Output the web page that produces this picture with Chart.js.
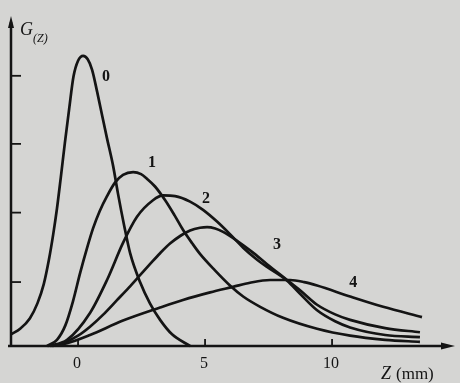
<!DOCTYPE html>
<html>
<head>
<meta charset="utf-8">
<script src="https://cdn.jsdelivr.net/npm/chart.js@4"></script>
<style>
  html, body { margin: 0; padding: 0; background: #d5d5d3; }
  canvas { display: block; }
</style>
</head>
<body>
<canvas id="chart" width="460" height="383"></canvas>
<script>
// Curve data: Z in mm, G(Z) in arbitrary units
const curve0Z = [-2.64, -2.28, -1.90, -1.60, -1.35, -1.15, -0.98, -0.83, -0.68, -0.52, -0.35, -0.18, 0.00, 0.20, 0.38, 0.55, 0.75, 0.95, 1.14, 1.38, 1.57, 1.81, 2.05, 2.44, 2.83, 3.23, 3.70, 4.41];
const curve0G = [0.17, 0.25, 0.40, 0.62, 0.90, 1.25, 1.62, 2.00, 2.45, 2.95, 3.45, 3.92, 4.15, 4.22, 4.17, 4.02, 3.70, 3.35, 3.02, 2.62, 2.22, 1.76, 1.35, 0.93, 0.62, 0.38, 0.17, 0];

const curve1Z = [-1.22, -0.83, -0.50, -0.20, 0.08, 0.35, 0.59, 0.85, 1.14, 1.46, 1.77, 2.17, 2.48, 2.72, 3.03, 3.43, 3.80, 4.13, 4.50, 4.80, 5.39, 5.98, 6.50, 7.17, 8.07, 9.41, 10.71, 12.09, 13.46];
const curve1G = [0, 0.09, 0.30, 0.65, 1.06, 1.42, 1.71, 1.96, 2.18, 2.38, 2.49, 2.53, 2.50, 2.43, 2.32, 2.12, 1.90, 1.69, 1.49, 1.34, 1.10, 0.88, 0.72, 0.57, 0.41, 0.25, 0.15, 0.09, 0.06];

const curve2Z = [-1.18, -0.43, 0.47, 1.14, 1.77, 2.32, 2.95, 3.35, 3.82, 4.41, 4.92, 5.47, 6.00, 6.50, 7.00, 7.44, 8.23, 8.74, 9.41, 10.12, 10.71, 12.09, 13.46];
const curve2G = [0, 0.09, 0.48, 0.96, 1.50, 1.88, 2.12, 2.19, 2.18, 2.10, 1.98, 1.81, 1.62, 1.43, 1.27, 1.15, 0.95, 0.76, 0.52, 0.36, 0.27, 0.16, 0.13];

const curve3Z = [-1.10, -0.59, 0.00, 0.47, 1.00, 1.54, 2.00, 2.44, 2.83, 3.23, 3.62, 4.02, 4.41, 4.80, 5.08, 5.40, 5.71, 6.30, 6.85, 7.44, 8.23, 8.74, 9.41, 10.12, 10.71, 12.09, 13.46];
const curve3G = [0, 0.04, 0.15, 0.28, 0.46, 0.67, 0.85, 1.03, 1.19, 1.35, 1.49, 1.60, 1.68, 1.72, 1.73, 1.71, 1.66, 1.52, 1.37, 1.19, 0.96, 0.81, 0.60, 0.46, 0.38, 0.26, 0.20];

const curve4Z = [-1.02, -0.43, 0.47, 1.77, 3.23, 4.13, 5.20, 6.10, 6.77, 7.56, 8.35, 8.90, 9.41, 10.71, 12.01, 13.54];
const curve4G = [0, 0.04, 0.16, 0.37, 0.56, 0.67, 0.78, 0.86, 0.92, 0.96, 0.96, 0.93, 0.88, 0.72, 0.57, 0.42];

const curveNames = ['0', '1', '2', '3', '4'];
const xTicks = [0, 5, 10];
const yTicks = [0.93, 1.94, 2.94, 3.93];

// where each curve number sits (data units)
const labelZ = [1.10, 2.91, 5.04, 7.83, 10.83];
const labelG = [3.91, 2.66, 2.14, 1.47, 0.92];

const ink = '#141414';
const serif = '"Liberation Serif", "DejaVu Serif", serif';

function toPoints(zs, gs) {
    return zs.map((z, i) => ({ x: z, y: gs[i] }));
}

const allZ = [curve0Z, curve1Z, curve2Z, curve3Z, curve4Z];
const allG = [curve0G, curve1G, curve2G, curve3G, curve4G];

const datasets = allZ.map((zs, i) => ({
    label: curveNames[i],
    data: toPoints(zs, allG[i]),
    borderColor: ink,
    borderWidth: 2.7,
    pointRadius: 0,
    fill: false,
    cubicInterpolationMode: 'monotone',
    clip: false
}));

// axes with arrows, ticks and all the lettering
const axesPlugin = {
    id: 'axes',
    beforeDraw(chart) {
        const ctx = chart.ctx;
        ctx.save();
        ctx.fillStyle = '#d5d5d3';
        ctx.fillRect(0, 0, chart.width, chart.height);
        ctx.restore();
    },
    afterDatasetsDraw(chart) {
        const ctx = chart.ctx;
        const xs = chart.scales.x;
        const ys = chart.scales.y;
        const area = chart.chartArea;
        const x0 = area.left;
        const y0 = area.bottom;

        ctx.save();
        ctx.strokeStyle = ink;
        ctx.fillStyle = ink;
        ctx.lineWidth = 2.5;
        ctx.lineCap = 'butt';

        // y axis
        ctx.beginPath();
        ctx.moveTo(x0, y0 + 1);
        ctx.lineTo(x0, area.top + 6);
        ctx.stroke();
        ctx.beginPath();
        ctx.moveTo(x0, area.top);
        ctx.lineTo(x0 - 3, area.top + 12);
        ctx.lineTo(x0 + 3, area.top + 12);
        ctx.closePath();
        ctx.fill();

        // x axis
        ctx.beginPath();
        ctx.moveTo(x0 - 3, y0);
        ctx.lineTo(area.right - 8, y0);
        ctx.stroke();
        ctx.beginPath();
        ctx.moveTo(area.right, y0);
        ctx.lineTo(area.right - 14, y0 - 3.5);
        ctx.lineTo(area.right - 14, y0 + 3.5);
        ctx.closePath();
        ctx.fill();

        // ticks
        ctx.lineWidth = 1.8;
        yTicks.forEach(v => {
            const py = ys.getPixelForValue(v);
            ctx.beginPath();
            ctx.moveTo(x0, py);
            ctx.lineTo(x0 + 10, py);
            ctx.stroke();
        });
        xTicks.forEach(v => {
            const px = xs.getPixelForValue(v);
            ctx.beginPath();
            ctx.moveTo(px, y0);
            ctx.lineTo(px, y0 - 7);
            ctx.stroke();
        });

        // tick labels
        ctx.font = '16px ' + serif;
        ctx.textAlign = 'center';
        ctx.textBaseline = 'alphabetic';
        xTicks.forEach(v => {
            ctx.fillText(String(v), xs.getPixelForValue(v) - 1, y0 + 22);
        });

        // axis titles
        ctx.textAlign = 'left';
        ctx.font = 'italic 18px ' + serif;
        ctx.fillText('G', x0 + 9, area.top + 19);
        ctx.font = 'italic 12px ' + serif;
        ctx.fillText('(Z)', x0 + 22, area.top + 26);

        ctx.font = 'italic 18px ' + serif;
        ctx.fillText('Z', 381, y0 + 33);
        ctx.font = '17px ' + serif;
        ctx.fillText('(mm)', 396, y0 + 33);

        // curve numbers
        ctx.font = 'bold 16px ' + serif;
        ctx.textAlign = 'center';
        ctx.textBaseline = 'middle';
        curveNames.forEach((name, i) => {
            ctx.fillText(name, xs.getPixelForValue(labelZ[i]), ys.getPixelForValue(labelG[i]));
        });
        ctx.restore();
    }
};

new Chart(document.getElementById('chart'), {
    type: 'line',
    data: { datasets: datasets },
    options: {
        responsive: false,
        devicePixelRatio: 1,
        animation: false,
        layout: { padding: { left: 11, right: 5, top: 16, bottom: 37 } },
        plugins: {
            legend: { display: false },
            tooltip: { enabled: false }
        },
        scales: {
            x: { type: 'linear', min: -2.64, max: 14.84, display: false },
            y: { type: 'linear', min: 0, max: 4.8, display: false }
        }
    },
    plugins: [axesPlugin]
});
</script>
</body>
</html>
